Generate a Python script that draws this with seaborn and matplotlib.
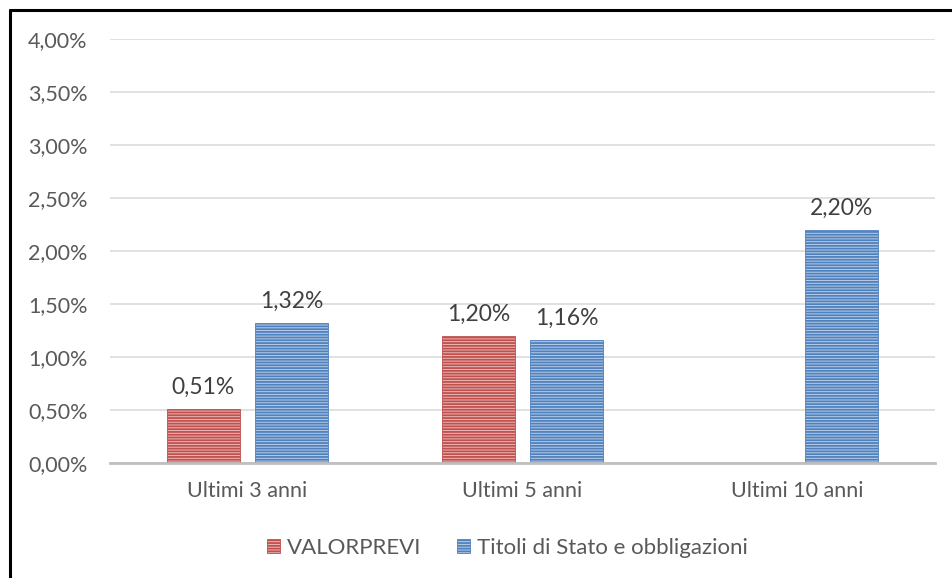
import numpy as np
import pandas as pd
import matplotlib
matplotlib.use("Agg")
import matplotlib.pyplot as plt
from matplotlib.lines import Line2D
from matplotlib.patches import Patch
from matplotlib.ticker import FuncFormatter
import seaborn as sns

categories = ["Ultimi 3 anni", "Ultimi 5 anni", "Ultimi 10 anni"]
series_names = ["VALORPREVI", "Titoli di Stato e obbligazioni"]
valorprevi = [0.51, 1.20, np.nan]
titoli = [1.32, 1.16, 2.20]
y_ticks = [0.0, 0.5, 1.0, 1.5, 2.0, 2.5, 3.0, 3.5, 4.0]

df = pd.DataFrame({
    "Periodo": categories * 2,
    "Serie": [series_names[0]] * 3 + [series_names[1]] * 3,
    "Valore": valorprevi + titoli,
})

sns.set_style("white")
plt.rcParams["font.family"] = ["Lato", "DejaVu Sans"]
plt.rcParams["hatch.linewidth"] = 1.3

hatch_cols = ["#C0504D", "#4F81BD"]
face_cols = ["#EBB9B8", "#B9CDE8"]

fig = plt.figure(figsize=(9.52, 5.78), dpi=100)
ax = fig.add_axes([0.1155, 0.199, 0.8665, 0.7335])

sns.barplot(data=df, x="Periodo", y="Valore", hue="Serie", order=categories,
            hue_order=series_names, palette=face_cols, width=0.64, gap=0.17,
            ax=ax, legend=False)

for i, cont in enumerate(ax.containers):
    for p in cont:
        if p is None:
            continue
        p.set_facecolor(face_cols[i])
        p.set_edgecolor(hatch_cols[i])
        p.set_hatch("------")
        p.set_linewidth(0.6)
        h = p.get_height()
        if np.isnan(h) or h == 0:
            continue
        ax.annotate(f"{h:.2f}%".replace(".", ","),
                    (p.get_x() + p.get_width() / 2, h),
                    xytext=(0, 8), textcoords="offset points",
                    ha="center", va="bottom", fontsize=16.5, color="#404040")

ax.set_xlim(-0.5, 2.5)
ax.set_ylim(0, 4.0)
ax.set_yticks(y_ticks)
ax.yaxis.set_major_formatter(FuncFormatter(lambda v, _: f"{v:.2f}%".replace(".", ",")))
ax.grid(axis="y", color="#D9D9D9", linewidth=1.1)
ax.set_axisbelow(True)
for s in ["top", "right", "left"]:
    ax.spines[s].set_visible(False)
ax.spines["bottom"].set_color("#BFBFBF")
ax.spines["bottom"].set_linewidth(2)
ax.tick_params(axis="y", length=0, pad=16, labelsize=15.5, labelcolor="#595959")
ax.tick_params(axis="x", length=0, pad=13, labelsize=15.5, labelcolor="#595959")
ax.set_xlabel("")
ax.set_ylabel("")

handles = [Patch(facecolor=face_cols[i], edgecolor=hatch_cols[i], hatch="------",
                 linewidth=0.6) for i in range(2)]
fig.legend(handles, series_names, loc="center", bbox_to_anchor=(0.533, 0.052),
           ncol=2, frameon=False, fontsize=16, labelcolor="#595959",
           handlelength=0.6, handleheight=0.6, handletextpad=0.3, columnspacing=1.6)

# outer frame (top and left edges visible)
fig.add_artist(Line2D([10 / 952, 10 / 952], [0, 1 - 10 / 578], transform=fig.transFigure,
                      color="black", linewidth=2.2))
fig.add_artist(Line2D([10 / 952, 1], [1 - 10 / 578, 1 - 10 / 578], transform=fig.transFigure,
                      color="black", linewidth=2.2))

fig.savefig("out.png", dpi=100, facecolor="white")
